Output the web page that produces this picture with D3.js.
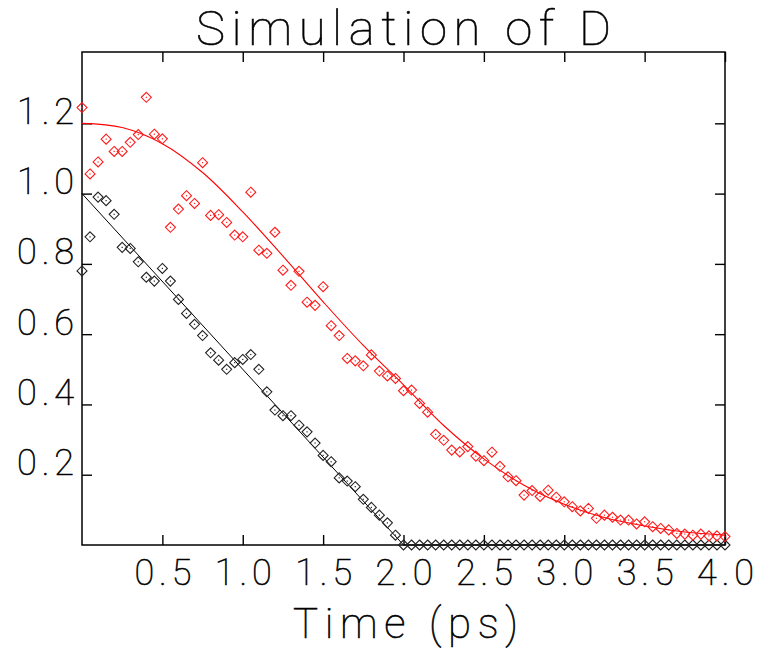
<!DOCTYPE html>
<html>
<head>
<meta charset="utf-8">
<script src="https://cdn.jsdelivr.net/npm/d3@7"></script>
<style>
    body { margin: 0; background: #fff; }
    svg { display: block; }
    text { font-family: Roboto, "DejaVu Sans", sans-serif; font-weight: 100; fill: #000;
           stroke: #000; stroke-width: 0.6px; }
</style>
</head>
<body>
<svg id="chart"></svg>
<script>
// sample times (ps)
const times = [0, 0.05, 0.1, 0.15, 0.2, 0.25, 0.3, 0.35, 0.4, 0.45, 0.5, 0.55, 0.6, 0.65, 0.7, 0.75,
    0.8, 0.85, 0.9, 0.95, 1.0, 1.05, 1.1, 1.15, 1.2, 1.25, 1.3, 1.35, 1.4, 1.45, 1.5, 1.55, 1.6,
    1.65, 1.7, 1.75, 1.8, 1.85, 1.9, 1.95, 2.0, 2.05, 2.1, 2.15, 2.2, 2.25, 2.3, 2.35, 2.4, 2.45,
    2.5, 2.55, 2.6, 2.65, 2.7, 2.75, 2.8, 2.85, 2.9, 2.95, 3.0, 3.05, 3.1, 3.15, 3.2, 3.25, 3.3,
    3.35, 3.4, 3.45, 3.5, 3.55, 3.6, 3.65, 3.7, 3.75, 3.8, 3.85, 3.9, 3.95, 4.0];

// red symbols
const redPoints = [1.245, 1.056, 1.090, 1.155, 1.120, 1.120, 1.146, 1.168, 1.274, 1.169, 1.156,
    0.904, 0.956, 0.994, 0.972, 1.088, 0.938, 0.940, 0.918, 0.882, 0.877, 1.004, 0.839, 0.830,
    0.890, 0.782, 0.739, 0.779, 0.691, 0.682, 0.735, 0.624, 0.596, 0.531, 0.524, 0.510, 0.541,
    0.495, 0.481, 0.474, 0.439, 0.441, 0.403, 0.378, 0.315, 0.298, 0.270, 0.265, 0.280, 0.253,
    0.240, 0.264, 0.224, 0.194, 0.183, 0.142, 0.155, 0.138, 0.156, 0.136, 0.123, 0.109, 0.097,
    0.104, 0.076, 0.085, 0.079, 0.071, 0.071, 0.060, 0.066, 0.052, 0.047, 0.043, 0.033, 0.031,
    0.028, 0.031, 0.026, 0.026, 0.024];

// black symbols
const blackPoints = [0.780, 0.877, 0.990, 0.980, 0.941, 0.847, 0.844, 0.806, 0.762, 0.751, 0.787,
    0.751, 0.699, 0.659, 0.628, 0.596, 0.547, 0.526, 0.500, 0.519, 0.528, 0.542, 0.500, 0.436,
    0.384, 0.368, 0.368, 0.341, 0.322, 0.290, 0.255, 0.237, 0.191, 0.182, 0.166, 0.130, 0.107,
    0.085, 0.063, 0.028, 0.000, 0, 0, 0, 0, 0, 0, 0, 0, 0, 0, 0, 0, 0, 0, 0, 0, 0, 0, 0, 0, 0, 0,
    0, 0, 0, 0, 0, 0, 0, 0, 0, 0, 0, 0, 0, 0, 0, 0, 0, 0];

// fitted curves
const redCurveT = [0, 0.25, 0.5, 0.75, 1.0, 1.25, 1.5, 1.75, 2.0, 2.25, 2.5, 2.75, 3.0, 3.25, 3.5, 3.75, 4.0];
const redCurveV = [1.200, 1.188, 1.142, 1.060, 0.948, 0.822, 0.692, 0.568, 0.456, 0.340, 0.245,
    0.170, 0.116, 0.078, 0.054, 0.037, 0.028];
const blackCurveT = [0, 2.0, 4.0];
const blackCurveV = [1.0, 0, 0];

const xTicks = [0.5, 1.0, 1.5, 2.0, 2.5, 3.0, 3.5, 4.0];
const yTicks = [0.2, 0.4, 0.6, 0.8, 1.0, 1.2];

const drawChart = () => {
    const width = 758;
    const height = 651;
    const m = { left: 82, right: 33, top: 52, bottom: 106 };

    const svg = d3.select('#chart')
        .attr('width', width)
        .attr('height', height);

    const x = d3.scaleLinear().domain([0, 4]).range([m.left, width - m.right]);
    const y = d3.scaleLinear().domain([0, 1.403]).range([height - m.bottom, m.top]);

    const x0 = x.range()[0], x1 = x.range()[1];
    const y0 = y.range()[0], y1 = y.range()[1];

    // title
    svg.append('text')
        .attr('x', (x0 + x1) / 2)
        .attr('y', 45)
        .attr('text-anchor', 'middle')
        .attr('font-size', 49)
        .attr('textLength', 415)
        .attr('lengthAdjust', 'spacing')
        .text('Simulation  of  D');

    // bottom axis with labels
    const bottom = svg.append('g')
        .attr('transform', `translate(0,${y0})`)
        .call(d3.axisBottom(x).tickValues(xTicks).tickSize(-10).tickSizeOuter(0)
            .tickFormat(d3.format('.1f')));
    bottom.selectAll('text')
        .attr('y', 40).attr('dy', null)
        .attr('font-size', 36)
        .attr('textLength', 57)
        .attr('lengthAdjust', 'spacing')
        .attr('fill', '#000');

    // top axis, ticks only
    svg.append('g')
        .attr('transform', `translate(0,${y1})`)
        .call(d3.axisTop(x).tickValues(xTicks).tickSize(-10).tickSizeOuter(0).tickFormat(''));

    // left axis with labels
    const left = svg.append('g')
        .attr('transform', `translate(${x0},0)`)
        .call(d3.axisLeft(y).tickValues(yTicks).tickSize(-10).tickSizeOuter(0)
            .tickFormat(d3.format('.1f')));
    left.selectAll('text')
        .attr('x', -8).attr('dy', null)
        .attr('font-size', 36)
        .attr('textLength', 57)
        .attr('lengthAdjust', 'spacing')
        .attr('fill', '#000');

    // right axis, ticks only
    svg.append('g')
        .attr('transform', `translate(${x1},0)`)
        .call(d3.axisRight(y).tickValues(yTicks).tickSize(-10).tickSizeOuter(0).tickFormat(''));

    svg.selectAll('.domain').remove();
    svg.selectAll('.tick line').attr('stroke', '#000').attr('stroke-width', 1.4);
    svg.selectAll('.tick text').attr('font-family', null);

    // frame
    svg.append('rect')
        .attr('x', x0).attr('y', y1)
        .attr('width', x1 - x0).attr('height', y0 - y1)
        .attr('fill', 'none')
        .attr('stroke', '#000')
        .attr('stroke-width', 1.5);

    // x axis title
    svg.append('text')
        .attr('x', (x0 + x1) / 2 + 2)
        .attr('y', 638)
        .attr('text-anchor', 'middle')
        .attr('font-size', 42)
        .attr('textLength', 225)
        .attr('lengthAdjust', 'spacing')
        .text('Time  (ps)');

    const line = d3.line().curve(d3.curveCatmullRom);

    // fitted curves
    svg.append('path')
        .attr('d', line(redCurveT.map((t, i) => [x(t), y(redCurveV[i])])))
        .attr('fill', 'none')
        .attr('stroke', '#ff0000')
        .attr('stroke-width', 1.1);

    svg.append('path')
        .attr('d', d3.line()(blackCurveT.map((t, i) => [x(t), y(blackCurveV[i])])))
        .attr('fill', 'none')
        .attr('stroke', '#000')
        .attr('stroke-width', 1);

    const diamond = 'M0,-5L5,0L0,5L-5,0Z';

    const drawSymbols = (values, color) => {
        const g = svg.append('g')
            .selectAll('g')
            .data(values.map((v, i) => [times[i], v]))
            .join('g')
            .attr('transform', d => `translate(${x(d[0])},${y(d[1])})`);
        g.append('path')
            .attr('d', diamond)
            .attr('fill', 'none')
            .attr('stroke', color)
            .attr('stroke-width', 1.1);
        g.append('rect')
            .attr('x', -0.6).attr('y', -0.6)
            .attr('width', 1.2).attr('height', 1.2)
            .attr('fill', color);
    };

    drawSymbols(blackPoints, '#222');
    drawSymbols(redPoints, '#ff1a1a');
};

drawChart();
</script>
</body>
</html>
